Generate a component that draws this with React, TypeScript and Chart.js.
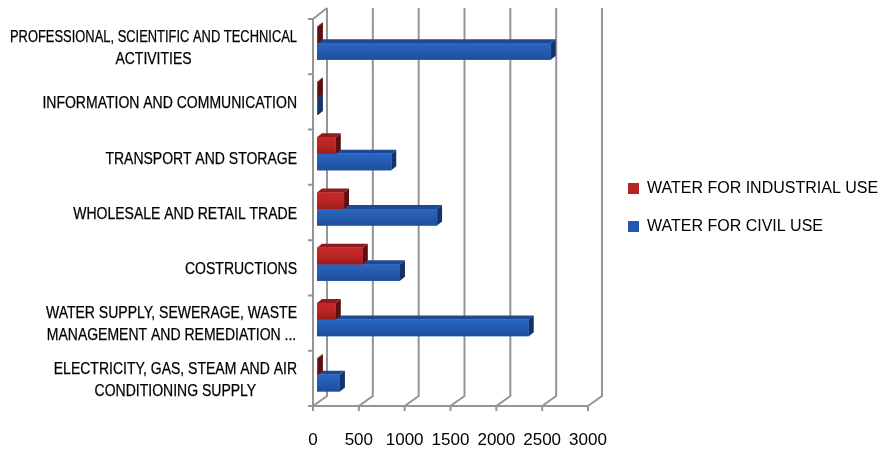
import React, { useEffect, useRef } from "react";
import { Chart, registerables } from "chart.js";

Chart.register(...registerables);

const categories: string[][] = [
  ["PROFESSIONAL, SCIENTIFIC AND TECHNICAL", "ACTIVITIES"],
  ["INFORMATION AND COMMUNICATION"],
  ["TRANSPORT AND STORAGE"],
  ["WHOLESALE AND RETAIL TRADE"],
  ["COSTRUCTIONS"],
  ["WATER SUPPLY, SEWERAGE, WASTE", "MANAGEMENT AND REMEDIATION ..."],
  ["ELECTRICITY, GAS, STEAM AND AIR", "CONDITIONING SUPPLY"],
];
const industrialUse = [10, 10, 205, 295, 500, 205, 10];
const civilUse = [2550, 10, 810, 1310, 905, 2310, 250];
const xTicks = [0, 500, 1000, 1500, 2000, 2500, 3000];

const labelFont = "16px 'Liberation Sans', Arial, sans-serif";
const labelSqueeze = 0.875;
const labelMaxWidth = 287;
const wallColor = "#959595";
const DX = 14, DY = 10;
const BAR_DX = 4, BAR_DY = -3.5, FACE_DX = 5, FACE_DY = 4;

const faces = [
  { front: "#b82424", light: "#c62a2a", dark: "#9a1c1c", top: "#8f1c1c", side: "#5c1010" },
  { front: "#2459ad", light: "#2a66c0", dark: "#1f4e9c", top: "#1d4a93", side: "#13336a" },
];

const wallPlugin = {
  id: "walls",
  beforeDatasetsDraw(chart: any) {
    const { ctx, scales } = chart;
    const x = scales.x, y = scales.y;
    const top = chart.chartArea.top, bottom = chart.chartArea.bottom;
    ctx.save();
    ctx.strokeStyle = wallColor;
    ctx.lineWidth = 2;
    ctx.beginPath();
    ctx.moveTo(x.left, top);
    ctx.lineTo(x.left, bottom);
    ctx.lineTo(x.right, bottom);
    ctx.moveTo(x.left, top);
    ctx.lineTo(x.left + DX, top - DY - 1);
    for (const v of xTicks) {
      const px = x.getPixelForValue(v);
      ctx.moveTo(px, bottom + 5);
      ctx.lineTo(px, bottom);
      ctx.lineTo(px + DX, bottom - DY);
      ctx.lineTo(px + DX, top - DY - 1);
    }
    const step = (bottom - top) / categories.length;
    for (let i = 0; i <= categories.length; i++) {
      ctx.moveTo(x.left - 5, top + i * step);
      ctx.lineTo(x.left, top + i * step);
    }
    ctx.stroke();
    ctx.restore();

    // category labels, each line centred inside its right-aligned block
    ctx.save();
    ctx.font = labelFont;
    ctx.fillStyle = "#000";
    ctx.strokeStyle = "#000";
    ctx.lineWidth = 0.25;
    ctx.textBaseline = "middle";
    ctx.textAlign = "center";
    ctx.scale(labelSqueeze, 1);
    const maxW = labelMaxWidth / labelSqueeze;
    categories.forEach((lines, i) => {
      const w = Math.min(maxW, Math.max(...lines.map((l) => ctx.measureText(l).width)));
      const cx = 297 / labelSqueeze - w / 2;
      const cy = y.getPixelForValue(i) + 2;
      lines.forEach((l, k) => {
        const ly = cy + (k - (lines.length - 1) / 2) * 22;
        ctx.fillText(l, cx, ly, maxW);
        ctx.strokeText(l, cx, ly, maxW);
      });
    });
    ctx.restore();
  },
  beforeDatasetDraw(chart: any, args: any) {
    const { ctx } = chart;
    ctx.save();
    ctx.translate(BAR_DX, BAR_DY);
    const f = faces[args.index];
    for (const el of args.meta.data) {
      const { x, y, base, height } = el.getProps(["x", "y", "base", "height"], true);
      const t = y - height / 2, b = y + height / 2;
      ctx.fillStyle = f.top;
      ctx.beginPath();
      ctx.moveTo(base, t);
      ctx.lineTo(base + FACE_DX, t - FACE_DY);
      ctx.lineTo(x + FACE_DX, t - FACE_DY);
      ctx.lineTo(x, t);
      ctx.closePath();
      ctx.fill();
      ctx.fillStyle = f.side;
      ctx.beginPath();
      ctx.moveTo(x, t);
      ctx.lineTo(x + FACE_DX, t - FACE_DY);
      ctx.lineTo(x + FACE_DX, b - FACE_DY);
      ctx.lineTo(x, b);
      ctx.closePath();
      ctx.fill();
    }
  },
  afterDatasetDraw(chart: any, args: any) {
    const { ctx } = chart;
    const f = faces[args.index];
    for (const el of args.meta.data) {
      const { x, y, base, height } = el.getProps(["x", "y", "base", "height"], true);
      const t = y - height / 2;
      const g = ctx.createLinearGradient(0, t, 0, t + height);
      g.addColorStop(0, f.light);
      g.addColorStop(0.55, f.front);
      g.addColorStop(1, f.dark);
      ctx.fillStyle = g;
      ctx.fillRect(base, t, x - base, height);
    }
    ctx.restore();
  },
  afterLayout(chart: any) {
    const l = chart.legend;
    if (l) {
      l.left = 606;
      l.right = 885;
      l.top = 158.5;
      l.bottom = 260;
    }
  },
};

export default function App() {
  const ref = useRef<HTMLCanvasElement>(null);
  useEffect(() => {
    const c = new Chart(ref.current!, {
      type: "bar",
      data: {
        labels: categories.map((l) => l.join(" ")),
        datasets: [
          { label: "WATER FOR INDUSTRIAL USE", data: industrialUse, backgroundColor: faces[0].front, categoryPercentage: 0.6, barPercentage: 1 },
          { label: "WATER FOR CIVIL USE", data: civilUse, backgroundColor: faces[1].front, categoryPercentage: 0.6, barPercentage: 1 },
        ],
      },
      options: {
        indexAxis: "y",
        animation: false,
        responsive: false,
        layout: { padding: { left: 0, top: 19, right: 297, bottom: 0 } },
        plugins: {
          tooltip: { enabled: false },
          legend: {
            position: "chartArea",
            align: "start",
            labels: {
              boxWidth: 11,
              boxHeight: 11,
              padding: 22,
              color: "#000",
              font: { family: "'Liberation Sans', Arial, sans-serif", size: 16 },
            },
          },
        },
        scales: {
          x: {
            min: 0,
            max: 3000,
            afterFit: (s: any) => { s.height = 47; },
            grid: { display: false },
            border: { display: false },
            afterBuildTicks: (s: any) => { s.ticks = xTicks.map((value) => ({ value })); },
            ticks: {
              autoSkip: false,
              maxRotation: 0,
              padding: 16,
              color: "#000",
              font: { family: "'Liberation Sans', Arial, sans-serif", size: 17 },
              callback: (v: any) => String(v),
            },
          },
          y: {
            afterFit: (s: any) => { s.width = 313; },
            grid: { display: false },
            border: { display: false },
            ticks: { display: false },
          },
        },
      } as any,
      plugins: [wallPlugin],
    });
    return () => c.destroy();
  }, []);
  return (
    <div style={{ position: "fixed", left: 0, top: 0, width: 885, height: 453, background: "#fff" }}>
      <canvas ref={ref} width={885} height={453} style={{ display: "block" }} />
    </div>
  );
}
